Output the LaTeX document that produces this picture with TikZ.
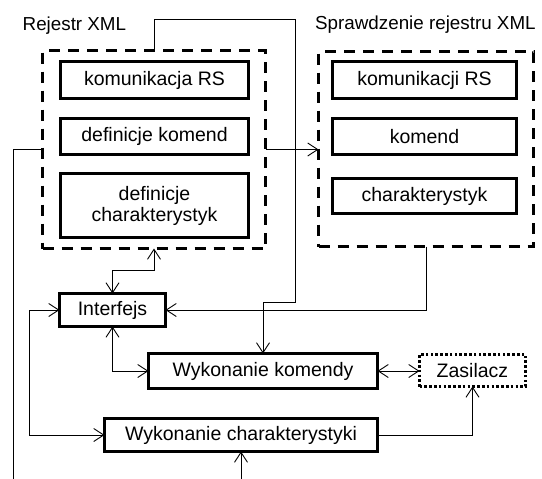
\documentclass[tikz,border=0pt]{standalone}
\usepackage{fontspec}
\setmainfont{Liberation Sans}
\usetikzlibrary{arrows.meta}
\begin{document}
\begin{tikzpicture}[x=1pt,y=-1pt,
  >={Straight Barb[length=10pt,width=13pt]},
  conn/.style={line width=0.9pt},
  grp/.style={draw,line width=2.8pt,dash pattern=on 11pt off 8pt,inner sep=0pt,outer sep=0pt},
  box/.style={draw,line width=2.8pt,inner sep=0pt,outer sep=0pt,align=center,font=\fontsize{19.5}{21}\selectfont},
  dotbox/.style={draw,line width=2.6pt,dash pattern=on 2.6pt off 2.2pt,inner sep=0pt,outer sep=0pt,font=\fontsize{19.5}{21}\selectfont},
  lbl/.style={inner sep=0pt,anchor=base west,font=\fontsize{18.8}{21}\selectfont}]
\useasboundingbox (0,0) rectangle (542,479);
% groups
\node[grp,minimum width=223pt,minimum height=198pt] (rej) at (154,149.5) {};
\node[grp,minimum width=215pt,minimum height=195pt] (spr) at (426,149) {};
\node[lbl] (rejl) at (22.5,30.5) {Rejestr XML};
\node[lbl] (sprl) at (315,30) {Sprawdzenie rejestru XML};
% inner boxes left
\node[box,minimum width=188pt,minimum height=37pt] (kra) at (154.5,80) {komunikacja RS};
\node[box,minimum width=188pt,minimum height=36pt] (dko) at (154.5,136.5) {definicje komend};
\node[box,minimum width=188pt,minimum height=64pt] (dch) at (154.5,205.5) {definicje\\charakterystyk};
% inner boxes right
\node[box,minimum width=184pt,minimum height=37pt] (krb) at (424.5,80) {komunikacji RS};
\node[box,minimum width=184pt,minimum height=36pt] (kom) at (424.5,136.5) {komend};
\node[box,minimum width=184pt,minimum height=35pt] (chr) at (424.5,196) {charakterystyk};
% lower boxes
\node[box,minimum width=106pt,minimum height=33pt] (int) at (112.5,310) {Interfejs};
\node[box,minimum width=229pt,minimum height=35pt] (wk) at (263,371) {Wykonanie komendy};
\node[dotbox,minimum width=106pt,minimum height=32pt] (zas) at (472.5,370.5) {Zasilacz};
\node[box,minimum width=273pt,minimum height=33pt] (wc) at (241,435) {Wykonanie charakterystyki};
% coordinates
\coordinate (c1) at (295,19);
\coordinate (c2) at (295,302);
\coordinate (c3) at (13,479);
\coordinate (c4) at (29,310);
\coordinate (c5) at (241,479);
% connectors
\draw[conn,->] (rej.north) |- (c1) -- (c2) -| (wk.north);
\draw[conn,->] (rej.east) -- (spr.west |- rej.east);
\draw[conn] (rej.west) -| (c3);
\draw[conn,<->] (rej.south) -- ++(0,22) -| (int.north);
\draw[conn,->] (spr.south) |- (int.east);
\draw[conn,<->] (int.south) |- (wk.west);
\draw[conn,<->] (wk.east) -- (zas.west |- wk.east);
\draw[conn,->] (wc.east) -| (zas.south);
\draw[conn,<->] (int.west) -- (c4) |- (wc.west);
\draw[conn,->] (c5) -- (wc.south);
\end{tikzpicture}
\end{document}
